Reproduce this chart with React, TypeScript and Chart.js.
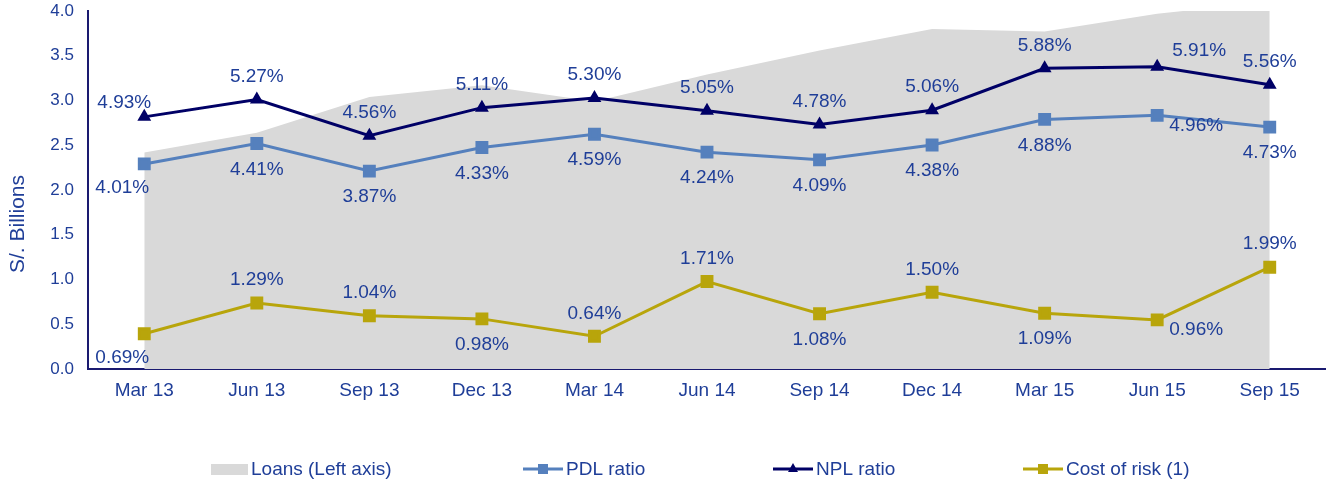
import React, { useEffect, useRef } from "react";
import { Chart, registerables } from "chart.js";

Chart.register(...registerables);

const categories = ["Mar 13", "Jun 13", "Sep 13", "Dec 13", "Mar 14", "Jun 14", "Sep 14", "Dec 14", "Mar 15", "Jun 15", "Sep 15"];
const loans = [2.42, 2.64, 3.04, 3.17, 2.99, 3.29, 3.56, 3.8, 3.77, 3.97, 4.1];
const pdlRatio = [4.01, 4.41, 3.87, 4.33, 4.59, 4.24, 4.09, 4.38, 4.88, 4.96, 4.73];
const nplRatio = [4.93, 5.27, 4.56, 5.11, 5.3, 5.05, 4.78, 5.06, 5.88, 5.91, 5.56];
const costOfRisk = [0.69, 1.29, 1.04, 0.98, 0.64, 1.71, 1.08, 1.5, 1.09, 0.96, 1.99];

const leftTicks = { min: 0, max: 4, step: 0.5 };
const rightMax = 7;

// label placements (a = above, b = below, l/r = shifted)
const pdlPlace = ["bl", "b", "b", "b", "b", "b", "b", "b", "b", "br", "b"];
const nplPlace = ["al", "a", "a", "a", "a", "a", "a", "a", "a", "ar", "a"];
const corPlace = ["bl", "a", "a", "b", "a", "a", "b", "a", "b", "br", "a"];

const FONT = "'Liberation Sans', Arial, sans-serif";
const TEXT = "#1f3e98";
const AXIS = "#1a1a70";
const C_LOANS = "#d9d9d9";
const C_PDL = "#5580bd";
const C_NPL = "#000066";
const C_COR = "#b8a50b";

const OFFS: Record<string, [number, number]> = {
  a: [0, -23],
  b: [0, 26],
  al: [-20, -14],
  bl: [-22, 24],
  ar: [42, -16],
  br: [39, 10],
};

const labelPlugin = {
  id: "valueLabels",
  afterDatasetsDraw(chart: any) {
    const ctx = chart.ctx;
    ctx.save();
    ctx.font = `19px ${FONT}`;
    ctx.fillStyle = TEXT;
    ctx.textAlign = "center";
    ctx.textBaseline = "middle";
    const sets: [number, number[], string[]][] = [
      [1, pdlRatio, pdlPlace],
      [2, nplRatio, nplPlace],
      [3, costOfRisk, corPlace],
    ];
    sets.forEach(([idx, vals, place]) => {
      const meta = chart.getDatasetMeta(idx);
      meta.data.forEach((pt: any, i: number) => {
        const [dx, dy] = OFFS[place[i]];
        ctx.fillText(vals[i].toFixed(2) + "%", pt.x + dx, pt.y + dy);
      });
    });
    ctx.restore();
  },
};

const decorPlugin = {
  id: "decor",
  afterDraw(chart: any) {
    const ctx = chart.ctx;
    ctx.save();
    // y axis title
    ctx.font = `21px ${FONT}`;
    ctx.fillStyle = TEXT;
    ctx.textAlign = "center";
    ctx.textBaseline = "middle";
    ctx.translate(18, 224);
    ctx.rotate(-Math.PI / 2);
    ctx.fillText("S/. Billions", 0, 0);
    ctx.restore();

    // legend
    ctx.save();
    const y = 469;
    ctx.font = `19px ${FONT}`;
    ctx.textBaseline = "middle";
    ctx.textAlign = "left";
    ctx.fillStyle = C_LOANS;
    ctx.fillRect(211, y - 5, 37, 11);
    ctx.fillStyle = TEXT;
    ctx.fillText("Loans (Left axis)", 251, y + 1);
    const items: [number, string, string, string][] = [
      [523, C_PDL, "rect", "PDL ratio"],
      [773, C_NPL, "triangle", "NPL ratio"],
      [1023, C_COR, "rect", "Cost of risk (1)"],
    ];
    items.forEach(([x, col, shape, txt]) => {
      ctx.strokeStyle = col;
      ctx.fillStyle = col;
      ctx.lineWidth = 3;
      ctx.beginPath();
      ctx.moveTo(x, y);
      ctx.lineTo(x + 40, y);
      ctx.stroke();
      const cx = x + 20;
      ctx.beginPath();
      if (shape === "rect") {
        ctx.rect(cx - 5, y - 5, 10, 10);
      } else {
        ctx.moveTo(cx, y - 6);
        ctx.lineTo(cx + 5, y + 3);
        ctx.lineTo(cx - 5, y + 3);
        ctx.closePath();
      }
      ctx.fill();
      ctx.fillStyle = TEXT;
      ctx.fillText(txt, x + 43, y + 1);
    });
    ctx.restore();
  },
};

export default function App() {
  const ref = useRef<HTMLCanvasElement | null>(null);
  useEffect(() => {
    if (!ref.current) return;
    const chart = new Chart(ref.current, {
      type: "line",
      data: {
        labels: categories,
        datasets: [
          {
            label: "Loans (Left axis)",
            data: loans,
            yAxisID: "y",
            fill: "origin",
            backgroundColor: C_LOANS,
            borderWidth: 0,
            pointRadius: 0,
            order: 10,
            tension: 0,
          },
          {
            label: "PDL ratio",
            data: pdlRatio,
            yAxisID: "y2",
            borderColor: C_PDL,
            backgroundColor: C_PDL,
            borderWidth: 3,
            pointStyle: "rect",
            pointRadius: 7,
            fill: false,
            order: 2,
          },
          {
            label: "NPL ratio",
            data: nplRatio,
            yAxisID: "y2",
            borderColor: C_NPL,
            backgroundColor: C_NPL,
            borderWidth: 3,
            pointStyle: "triangle",
            pointRadius: 5,
            fill: false,
            order: 1,
          },
          {
            label: "Cost of risk (1)",
            data: costOfRisk,
            yAxisID: "y2",
            borderColor: C_COR,
            backgroundColor: C_COR,
            borderWidth: 3,
            pointStyle: "rect",
            pointRadius: 7,
            fill: false,
            order: 3,
          },
        ],
      },
      options: {
        animation: false,
        responsive: true,
        maintainAspectRatio: false,
        layout: { autoPadding: false, padding: { top: 11, left: 0, right: 0, bottom: 0 } },
        plugins: { legend: { display: false }, tooltip: { enabled: false } },
        scales: {
          x: {
            offset: true,
            grid: { display: false, drawTicks: false },
            border: { display: true, color: AXIS, width: 2 },
            ticks: { color: TEXT, font: { family: FONT, size: 19 }, padding: 10, maxRotation: 0 },
            afterFit: (s: any) => {
              s.height = 482 - 369;
              s.paddingLeft = 0;
              s.paddingRight = 0;
            },
          },
          y: {
            position: "left",
            min: leftTicks.min,
            max: leftTicks.max,
            grid: { display: false, drawTicks: false },
            border: { display: true, color: AXIS, width: 2 },
            ticks: {
              stepSize: leftTicks.step,
              color: TEXT,
              font: { family: FONT, size: 17 },
              padding: 14,
              callback: (v: any) => Number(v).toFixed(1),
            },
            afterFit: (s: any) => {
              s.width = 88;
              s.paddingTop = 0;
              s.paddingBottom = 0;
            },
          },
          y2: {
            display: false,
            min: 0,
            max: rightMax,
          },
        },
      },
      plugins: [labelPlugin, decorPlugin],
    });
    return () => chart.destroy();
  }, []);
  return (
    <div style={{ position: "fixed", left: 0, top: 0, width: 1326, height: 482, background: "#fff" }}>
      <canvas ref={ref} />
    </div>
  );
}
